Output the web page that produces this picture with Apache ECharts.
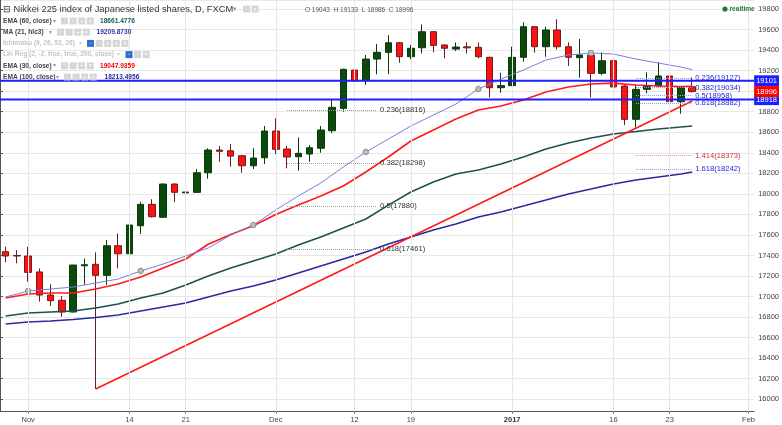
<!DOCTYPE html>
<html><head><meta charset="utf-8">
<script src="https://cdn.jsdelivr.net/npm/echarts@6/dist/echarts.min.js"></script>
<style>html,body{margin:0;padding:0;background:#fff}#c{width:782px;height:425px}</style>
</head><body><div id="c"></div>
<script>
// ---------- categories (trading days) ----------
const dates = ['2016-10-28','2016-10-31','2016-11-01','2016-11-02','2016-11-03','2016-11-04','2016-11-07','2016-11-08','2016-11-09','2016-11-10','2016-11-11','2016-11-14','2016-11-15','2016-11-16','2016-11-17','2016-11-18','2016-11-21','2016-11-22','2016-11-23','2016-11-24','2016-11-25','2016-11-28','2016-11-29','2016-11-30','2016-12-01','2016-12-02','2016-12-05','2016-12-06','2016-12-07','2016-12-08','2016-12-09','2016-12-12','2016-12-13','2016-12-14','2016-12-15','2016-12-16','2016-12-19','2016-12-20','2016-12-21','2016-12-22','2016-12-23','2016-12-27','2016-12-28','2016-12-29','2016-12-30','2017-01-03','2017-01-04','2017-01-05','2017-01-06','2017-01-09','2017-01-10','2017-01-11','2017-01-12','2017-01-13','2017-01-16','2017-01-17','2017-01-18','2017-01-19','2017-01-20','2017-01-23','2017-01-24','2017-01-25','2017-01-26','2017-01-27','2017-01-30','2017-01-31','2017-02-01'];
const tickDates = ['2016-11-01','2016-11-14','2016-11-21','2016-12-01','2016-12-12','2016-12-19','2017-01-03','2017-01-16','2017-01-23','2017-02-01'];
const tickTexts = ['Nov','14','21','Dec','12','19','2017','16','23','Feb'];

// ---------- candles ----------
const opens  = [17437,17400,17395,17240,17015,16964,16850,17300,17314,17207,17495,17417,17690,17898,17772,18096,18010,18015,18206,18427,18420,18372,18274,18352,18612,18437,18362,18388,18444,18615,18833,19206,19102,19313,19378,19472,19336,19423,19579,19450,19410,19432,19427,19330,19034,19054,19330,19628,19433,19596,19433,19326,19352,19174,19297,19050,18726,19018,19053,19148,18898,19043];
const closes = [17395,17395,17236,17015,16960,16850,17307,17310,17207,17495,17417,17697,17898,17778,18096,18015,18018,18206,18427,18415,18368,18274,18349,18612,18434,18359,18395,18449,18622,18843,19213,19099,19313,19378,19472,19336,19418,19579,19446,19418,19430,19422,19336,19034,19054,19330,19628,19433,19596,19433,19330,19352,19174,19297,19041,18726,19018,19053,19148,18898,19038,18996];
const lows   = [17334,17324,17145,16950,16910,16804,16845,17113,16100,17113,17275,17410,17610,17770,17768,17918,17998,18010,18148,18313,18264,18206,18242,18291,18388,18249,18226,18313,18401,18590,18800,19057,19060,19164,19167,19277,19310,19369,19378,19320,19391,19368,19320,18940,18985,19050,19287,19375,19336,19407,19245,19131,18940,19157,19035,18670,18648,18980,19035,18800,18780,18986];
const highs  = [17486,17453,17486,17275,17120,17005,17310,17370,17431,17551,17616,17738,17924,17948,18100,18103,18157,18242,18444,18466,18486,18380,18444,18661,18736,18466,18550,18476,18661,18914,19220,19271,19352,19459,19544,19480,19450,19651,19585,19455,19475,19475,19475,19335,19180,19433,19670,19635,19628,19700,19476,19508,19394,19378,19300,19060,19060,19184,19281,19150,19045,19133];

// ---------- indicator lines (read at these day indices) ----------
const lineIdx = [0,2,4,6,8,10,12,14,16,18,20,22,24,26,28,30,32,34,36,38,40,42,44,46,48,50,52,54,56,58,60,61];
const ma21   = [16996,17054,17074,17093,17132,17171,17249,17317,17395,17473,17599,17697,17843,17979,18106,18262,18408,18534,18661,18768,18875,19021,19118,19206,19303,19352,19372,19362,19313,19274,19235,19210];
const ema30  = [16986,17025,17035,17035,17074,17122,17190,17278,17366,17510,17605,17690,17800,17892,17979,18077,18213,18359,18515,18622,18729,18817,18855,18914,18992,19041,19070,19079,19060,19050,19045,19048];
const ema60  = [16811,16840,16850,16859,16889,16928,16986,17035,17113,17200,17278,17346,17414,17502,17580,17668,17755,17891,18018,18115,18193,18232,18291,18359,18437,18495,18544,18583,18607,18632,18651,18661];
const ema100 = [16733,16752,16762,16777,16796,16820,16859,16898,16937,16996,17054,17103,17161,17229,17298,17366,17434,17512,17580,17648,17707,17775,17823,17882,17940,17999,18047,18096,18135,18164,18193,18213];
const maMarkerIdx = [2,12,22,32,42,52];

// ---------- drawings ----------
const trendIdx = [8, 61];
const trendVal = [16100, 18905];
const hLineVals = [19101, 18918];
const lastPrice = 18996;
const fibLeftRatios = ['0.236','0.382','0.5','0.618'];
const fibLeftVals = [18816, 18298, 17880, 17461];
const fibLeftSpan = [25, 33];
const fibRightRatios = ['0.236','0.382','0.5','0.618','1.414','1.618'];
const fibRightVals = [19127, 19034, 18958, 18882, 18373, 18242];
const fibRightSpan = [56, 61];

// ---------- legend values ----------
const legendRows = [
  {name:'EMA (60, close)', val:'18661.4776', color:'#1b5b5b', arrowX:53, iconX:61, icons:4, valX:100, active:true},
  {name:'MA (21, hlc3)', val:'19209.8730', color:'#3434a8', arrowX:48.5, iconX:57, icons:4, valX:96.5, active:true},
  {name:'Ichimoku (9, 26, 52, 26)', val:'', color:'', arrowX:79, iconX:87, icons:5, valX:0, active:false},
  {name:'Lin Reg (2, -2, true, true, 200, close)', val:'', color:'', arrowX:117, iconX:125.5, icons:3, valX:0, active:false},
  {name:'EMA (30, close)', val:'19047.9359', color:'#ff0000', arrowX:53, iconX:61, icons:4, valX:100, active:true},
  {name:'EMA (100, close)', val:'18213.4956', color:'#2a2aa0', arrowX:56, iconX:64, icons:4, valX:104.5, active:true}
];

const chart = echarts.init(document.getElementById('c'));
const tickSet = new Set(tickDates);
const isTick = (i, v) => tickSet.has(v);
const candleData = opens.map((o, i) => [o, closes[i], lows[i], highs[i]]);
const pairs = arr => lineIdx.map((x, i) => [x, arr[i]]);
const ma21Data = lineIdx.map((x, i) => maMarkerIdx.includes(x)
  ? {value:[x, ma21[i]], symbol:'circle', symbolSize:5.5, itemStyle:{color:'#bdbdbd', borderColor:'#8c8c8c', borderWidth:1}}
  : {value:[x, ma21[i]], symbol:'none'});

const FONT = '"Liberation Sans", Arial, sans-serif';
const graphics = [];
function txt(x, y, text, size, color, weight) {
  graphics.push({type:'text', x:x, y:y, silent:true, z:50,
    style:{text:text, fontSize:size, fontFamily:FONT, fontWeight:weight||'normal', fill:color, verticalAlign:'middle', align:'left'}});
}
function icons(x, y, n, firstBlue) {
  const glyphs = ['◦','◦','+','×','×'];
  for (let k = 0; k < n; k++) {
    const cx = x + k * 8.6;
    const blue = firstBlue && k === 0;
    graphics.push({type:'rect', silent:true, z:50, shape:{x:cx, y:y-3.5, width:7, height:7},
      style:{fill: blue ? '#2f6fd0' : '#d6d6d6'}});
    graphics.push({type:'text', silent:true, z:51, x:cx+3.5, y:y,
      style:{text: k===n-1 ? '×' : (k===n-2 && n>=4 ? '+' : glyphs[k]), fontSize:6, fontFamily:FONT, fill:'#fff', align:'center', verticalAlign:'middle'}});
  }
}
txt(3, 9, '⊟ Nikkei 225 index of Japanese listed shares, D, FXCM', 9.3, '#333');
txt(233, 9, '▾', 7, '#999');
icons(243, 9, 2, false);
legendRows.forEach((r, i) => {
  const y = 21 + i * 11.2;
  txt(3, y, r.name, 6.6, r.active ? '#444' : '#c4c4c4', 'bold');
  txt(r.arrowX, y, '▾', 6, r.active ? '#999' : '#cfcfcf');
  icons(r.iconX, y, r.icons, !r.active);
  if (r.val) txt(r.valX, y, r.val, 6.6, r.color, 'bold');
});
txt(305, 10, 'O 19043  H 19133  L 18986  C 18996', 6.5, '#555');
graphics.push({type:'circle', silent:true, z:50, shape:{cx:725, cy:9, r:2.6}, style:{fill:'#1f7a3a'}});
txt(729.5, 9, 'realtime', 6.6, '#1f7a3a', 'bold');

const fibLine = (ratios, vals, span, colors, lineColors) => ratios.map((r, i) => [
  {name: r + '(' + vals[i] + ')', coord:[dates[span[0]], vals[i]],
   lineStyle:{color: lineColors[i]}, label:{color: colors[i]}},
  {coord:[dates[span[1]], vals[i]]}
]);
const fibLeft = fibLine(fibLeftRatios, fibLeftVals, fibLeftSpan, fibLeftRatios.map(() => '#333'), fibLeftRatios.map(() => '#9a9a9a'));
const fibRight = fibLine(fibRightRatios, fibRightVals, fibRightSpan,
  fibRightRatios.map(r => r === '1.414' ? '#d23232' : '#2424d6'),
  fibRightRatios.map(r => r === '1.414' ? '#e99a9a' : '#9a9aee'));

const levelSeries = (val, lineColor, boxColor, width) => ({
  type:'line', xAxisIndex:1, data:[[0, val], [1, val]], symbol:'none', z:6, silent:true,
  lineStyle:{color:lineColor, width:width},
  endLabel:{show:true, distance:0, formatter: () => String(val), fontSize:7.5, fontFamily:FONT,
    color:'#fff', backgroundColor:boxColor, padding:[1.5,2,1.5,2]}
});

chart.setOption({
  animation:false,
  backgroundColor:'#ffffff',
  grid:{left:-2.575, top:0, width:760.45, height:411.5, containLabel:false},
  xAxis:[{
    type:'category', data:dates, boundaryGap:true,
    axisLine:{show:true, lineStyle:{color:'#555', width:1}},
    axisTick:{show:true, interval:isTick, alignWithLabel:true, length:2, lineStyle:{color:'#555'}},
    axisLabel:{interval:isTick, margin:4, fontSize:7.5, fontFamily:FONT, color:'#444',
      formatter: v => { const t = tickTexts[tickDates.indexOf(v)]; return t === '2017' ? '{b|2017}' : t; },
      rich:{b:{fontWeight:'bold', fontSize:7.5, fontFamily:FONT, color:'#333'}}},
    splitLine:{show:false}
  }, {
    type:'value', min:0, max:1, show:false
  }],
  yAxis:{
    type:'value', position:'right', scale:true, min:15881, max:19888,
    splitNumber:20, minInterval:200, maxInterval:200,
    axisLine:{show:true, lineStyle:{color:'#555'}},
    axisTick:{show:true, length:3, lineStyle:{color:'#555'}},
    axisLabel:{margin:4, fontSize:7.5, fontFamily:FONT, color:'#444', showMinLabel:false, showMaxLabel:false,
      formatter: v => String(v)},
    splitLine:{show:true, lineStyle:{color:'#e8e8e8', width:1}}
  },
  graphic:graphics,
  series:[
    {type:'line', name:'vgrid', data:[], z:1, silent:true,
     markLine:{symbol:['none','none'], silent:true, label:{show:false},
       lineStyle:{color:'#e6e6e6', width:1, type:'solid'},
       data: tickDates.map(d => ({xAxis:d}))}},
    {type:'candlestick', name:'Nikkei', data:candleData, barWidth:7, z:2,
     itemStyle:{color:'#0c4a0c', color0:'#ff1111', borderColor:'#0a3a0a', borderColor0:'#6e1c1c', borderWidth:1}},
    {type:'line', name:'EMA100', data:pairs(ema100), symbol:'none', z:3, lineStyle:{color:'#2a2aa0', width:1.6}},
    {type:'line', name:'EMA60', data:pairs(ema60), symbol:'none', z:3, lineStyle:{color:'#1d5050', width:1.6}},
    {type:'line', name:'EMA30', data:pairs(ema30), symbol:'none', z:3, lineStyle:{color:'#ff1a1a', width:1.6}},
    {type:'line', name:'MA21', data:ma21Data, symbol:'none', showSymbol:true, showAllSymbol:true, z:4,
     lineStyle:{color:'#7d7ddc', width:1}},
    {type:'line', name:'Trend', data:trendIdx.map((x, i) => [x, trendVal[i]]), symbol:'none', z:4,
     lineStyle:{color:'#ff1a1a', width:1.6},
     markLine:{symbol:['none','none'], silent:true,
       lineStyle:{type:'dotted', width:1},
       label:{show:true, position:'end', distance:3, formatter:'{b}', fontSize:7.6, fontFamily:FONT, padding:[7,0,0,0]},
       data: fibLeft.concat(fibRight)}},
    levelSeries(hLineVals[0], '#1e1eff', '#1e1eff', 2),
    levelSeries(hLineVals[1], '#1e1eff', '#1e1eff', 2),
    levelSeries(lastPrice, 'rgba(0,0,0,0)', '#ff0000', 0)
  ]
});
</script></body></html>
